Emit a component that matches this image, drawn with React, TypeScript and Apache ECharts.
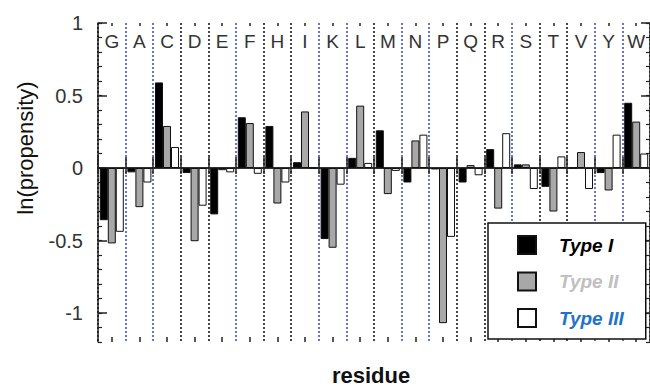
import React, { useEffect, useRef } from "react";
import * as echarts from "echarts";

const residues = ["G", "A", "C", "D", "E", "F", "H", "I", "K", "L", "M", "N", "P", "Q", "R", "S", "T", "V", "Y", "W"];
const typeI = [-0.36, -0.03, 0.59, -0.035, -0.32, 0.35, 0.29, 0.04, -0.49, 0.07, 0.26, -0.1, -0.01, -0.1, 0.13, 0.025, -0.13, 0.0, -0.035, 0.45];
const typeII = [-0.52, -0.27, 0.29, -0.505, -0.015, 0.31, -0.245, 0.39, -0.55, 0.43, -0.18, 0.19, -1.07, 0.02, -0.28, 0.025, -0.3, 0.11, -0.155, 0.32];
const typeIII = [-0.44, -0.1, 0.145, -0.26, -0.03, -0.04, -0.1, 0, -0.115, 0.035, -0.02, 0.23, -0.475, -0.05, 0.24, -0.145, 0.08, -0.145, 0.23, 0.1];
const seriesNames = ["Type I", "Type II", "Type III"];
// kind of vertical divider at each category boundary (21 boundaries incl. frame)
const dividerKinds = ["frame", "blue", "blue", "black", "black", "blue", "black", "black", "blue", "blue", "black", "blue", "blue", "black", "black", "blue", "black", "black", "blue", "blue", "frame"];

const FONT = "Liberation Sans, Arial, sans-serif";
const kindColor: Record<string, string> = { frame: "#222", blue: "#5566cc", black: "#333" };

export default function App() {
  const ref = useRef<HTMLDivElement>(null);
  useEffect(() => {
    if (!ref.current) return;
    const chart = echarts.init(ref.current, undefined, { renderer: "svg" });
    const gridBox = { left: 98, width: 553.6 };
    const catAxisBase = {
      type: "category" as const,
      data: residues,
      boundaryGap: true,
      gridIndex: 0,
    };
    chart.setOption({
      animation: false,
      backgroundColor: "#fff",
      textStyle: { fontFamily: FONT },
      grid: [
        { ...gridBox, top: 23, height: 319 },
        { ...gridBox, top: 23, height: 290 },
      ],
      xAxis: [
        {
          ...catAxisBase,
          position: "bottom",
          axisLine: { show: true, lineStyle: { color: "#222", width: 1.5 } },
          axisTick: { show: true, inside: true, length: 11, interval: 0, lineStyle: { color: "#222", width: 1.5 } },
          axisLabel: { show: false },
          splitLine: {
            show: true,
            interval: 0,
            lineStyle: { color: dividerKinds.map((k) => kindColor[k]), type: [2, 2], width: 1.8 },
          },
        },
        {
          ...catAxisBase,
          position: "top",
          axisLine: { show: true, lineStyle: { color: "#222", width: 1.5 } },
          axisTick: { show: true, inside: true, length: 6, interval: 0, lineStyle: { color: "#222", width: 1.5 } },
          axisLabel: { show: true, inside: true, interval: 0, margin: 18, verticalAlign: "middle", fontSize: 19, color: "#333", fontFamily: FONT },
          splitLine: { show: false },
        },
        {
          ...catAxisBase,
          position: "bottom",
          axisLine: { show: false },
          axisTick: { show: true, inside: true, alignWithLabel: true, length: 5, interval: 0, lineStyle: { color: "#222", width: 1.5 } },
          axisLabel: { show: false },
          splitLine: { show: false },
        },
        {
          ...catAxisBase,
          position: "top",
          axisLine: { show: false },
          axisTick: { show: true, inside: true, alignWithLabel: true, length: 3, interval: 0, lineStyle: { color: "#222", width: 1.5 } },
          axisLabel: { show: false },
          splitLine: { show: false },
        },
        { type: "category", data: residues, gridIndex: 1, show: false },
      ],
      yAxis: [
        {
          type: "value", gridIndex: 0, position: "left", min: -1.2, max: 1, interval: 0.1,
          axisLine: { show: true, lineStyle: { color: "#222", width: 1.5 } },
          axisTick: { show: true, inside: true, length: 4, lineStyle: { color: "#222", width: 1.2 } },
          axisLabel: { show: false },
          splitLine: { show: false },
        },
        {
          type: "value", gridIndex: 0, position: "right", min: -1.2, max: 1, interval: 0.1,
          axisLine: { show: true, lineStyle: { color: "#222", width: 1.5 } },
          axisTick: { show: true, inside: true, length: 4, lineStyle: { color: "#222", width: 1.2 } },
          axisLabel: { show: false },
          splitLine: { show: false },
        },
        {
          type: "value", gridIndex: 1, position: "left", min: -1, max: 1, interval: 0.5,
          axisLine: { show: false },
          axisTick: { show: true, inside: true, length: 9, lineStyle: { color: "#222", width: 1.5 } },
          axisLabel: { show: true, margin: 15, fontSize: 20, color: "#333", fontFamily: FONT },
          splitLine: { show: false },
        },
        {
          type: "value", gridIndex: 1, position: "right", min: -1, max: 1, interval: 0.5,
          axisLine: { show: false },
          axisTick: { show: true, inside: true, length: 9, lineStyle: { color: "#222", width: 1.5 } },
          axisLabel: { show: false },
          splitLine: { show: false },
        },
      ],
      legend: {
        orient: "vertical",
        left: 488,
        top: 223,
        padding: [12, 22, 11, 29],
        itemWidth: 18,
        itemHeight: 18,
        itemGap: 16.5,
        icon: "rect",
        borderColor: "#111",
        borderWidth: 1.5,
        backgroundColor: "#fff",
        textStyle: { fontSize: 19, fontWeight: "bold", fontStyle: "italic", fontFamily: FONT, padding: [0, 0, 0, 18] },
        data: [
          { name: seriesNames[0], textStyle: { color: "#000" } },
          { name: seriesNames[1], textStyle: { color: "#c0c0c0" } },
          { name: seriesNames[2], textStyle: { color: "#1e73c8" } },
        ],
      },
      series: [typeI, typeII, typeIII].map((d, i) => ({
        type: "bar",
        name: seriesNames[i],
        xAxisIndex: 0,
        yAxisIndex: 0,
        data: d,
        barWidth: 8,
        barGap: "0%",
        itemStyle: { color: ["#000", "#a8a8a8", "#fff"][i], borderColor: "#111", borderWidth: 1 },
      })),
      graphic: [
        {
          type: "text",
          x: 25,
          y: 148,
          rotation: Math.PI / 2,
          style: { text: "ln(propensity)", fontSize: 22, fontFamily: FONT, fill: "#111", textAlign: "center", textVerticalAlign: "middle" },
        },
        {
          type: "text",
          x: 371,
          y: 375,
          style: { text: "residue", fontSize: 22, fontWeight: "bold", fontFamily: FONT, fill: "#111", textAlign: "center", textVerticalAlign: "middle" },
        },
      ],
    });
    return () => chart.dispose();
  }, []);
  return <div ref={ref} style={{ position: "absolute", left: 0, top: 0, width: 650, height: 387 }} />;
}
